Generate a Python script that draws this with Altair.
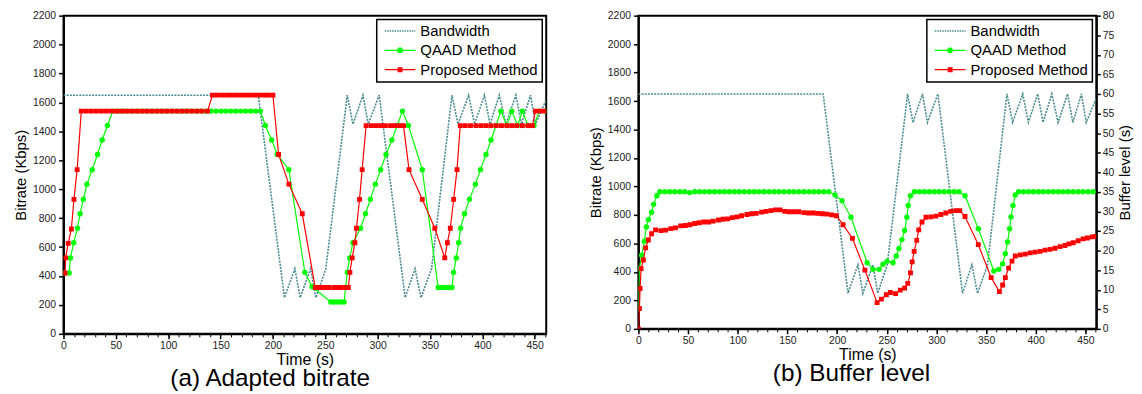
import math
import altair as alt
import pandas as pd

FONT = "Liberation Sans"
BW_COLOR = "#4a8a8e"
GREEN = "#00ff00"
RED = "#ff0000"
SERIES = ["Bandwidth", "QAAD Method", "Proposed Method"]

# ---------------- data ----------------
bandwidth = [
    (0, 1650), (186, 1650), (211, 250), (221, 450), (226, 250), (236, 450), (241, 250),
    (250.5, 450), (271, 1650), (276.4, 1450), (286, 1650), (291, 1450), (301.5, 1650),
    (326.3, 250), (335.7, 450), (341.4, 250), (351.5, 450), (371, 1650), (376.7, 1450),
    (386.9, 1650), (392.6, 1450), (402, 1650), (407.3, 1450), (416.2, 1650), (422.5, 1450),
    (432, 1650), (437.4, 1450), (446, 1650), (450.8, 1450), (461, 1620),
]

a_qaad = [
    (0, 420), (5.4, 420), (6.6, 525), (9.8, 630), (13.3, 730), (15.8, 830), (18.9, 930),
    (22.4, 1035), (27.4, 1135), (32.5, 1240), (36.9, 1340), (42, 1440), (47, 1540),
    (51.7, 1540), (56.4, 1540), (61.1, 1540), (65.8, 1540), (70.5, 1540), (75.2, 1540),
    (79.9, 1540), (84.6, 1540), (89.3, 1540), (94, 1540), (98.7, 1540), (103.4, 1540),
    (108.1, 1540), (112.8, 1540), (117.5, 1540), (122.2, 1540), (126.9, 1540), (131.6, 1540),
    (136.3, 1540), (141, 1540), (145.7, 1540), (150.4, 1540), (155.1, 1540), (159.8, 1540),
    (164.5, 1540), (169.2, 1540), (173.9, 1540), (178.6, 1540), (183.3, 1540), (188, 1540),
    (192.8, 1440), (198.8, 1340), (204.1, 1240), (215.2, 1135), (230.5, 425), (237.5, 325),
    (255.3, 220), (258.4, 220), (261.5, 220), (264.7, 220), (267.9, 220),
    (271, 425), (273.3, 525), (276.4, 630), (283.7, 730), (288.4, 830), (293.1, 930),
    (297.8, 1035), (302.9, 1135), (308, 1240), (313.6, 1340), (318.7, 1440), (323.7, 1540),
    (329.4, 1440), (342.6, 1135), (357.8, 320), (361.6, 320), (365, 320), (368, 320), (371, 320),
    (372.5, 425), (375.1, 525), (377.4, 630), (379.2, 730), (383, 830), (387.7, 930),
    (393.4, 1035), (398.2, 1135), (403.5, 1240), (408.3, 1340), (413, 1440), (417.7, 1540),
    (423.4, 1440), (428.1, 1540), (433.7, 1440), (438.2, 1540), (443.6, 1440), (449.3, 1440),
    (454.5, 1540), (460, 1540),
]

a_prop = [
    (0, 420), (1.5, 420), (2, 525), (4.5, 625), (7.5, 725), (10, 930), (13, 1135), (17, 1540),
    (21.8, 1540), (26.6, 1540), (31.4, 1540), (36.2, 1540), (41, 1540), (45.8, 1540),
    (50.6, 1540), (55.4, 1540), (60.2, 1540), (65, 1540), (69.8, 1540), (74.6, 1540),
    (79.4, 1540), (84.2, 1540), (89, 1540), (93.8, 1540), (98.6, 1540), (103.4, 1540),
    (108.2, 1540), (113, 1540), (117.8, 1540), (122.6, 1540), (127.4, 1540), (132.2, 1540),
    (137.5, 1540),
    (142.3, 1650), (146.8, 1650), (151.3, 1650), (155.8, 1650), (160.3, 1650), (164.8, 1650),
    (169.3, 1650), (173.8, 1650), (178.3, 1650), (182.8, 1650), (187.3, 1650), (191.8, 1650),
    (195.5, 1650), (200, 1650),
    (205.4, 1240), (215.2, 1035), (228, 830), (240.4, 320), (243.6, 320), (247.3, 320),
    (250.5, 320), (253.6, 320), (258.4, 320), (261.5, 320), (264.7, 320), (269.4, 320), (272, 320),
    (273.5, 425), (275.7, 525), (278.3, 630), (279.8, 730), (282.7, 930), (285.2, 1135), (289, 1440),
    (294, 1440), (298.4, 1440), (302.9, 1440), (307.3, 1440), (312.3, 1440), (316.8, 1440),
    (321.2, 1440), (324.7, 1440),
    (330, 1135), (342.6, 930), (354.6, 730), (364.1, 525), (366.6, 630), (369.4, 730),
    (372.6, 930), (375.8, 1135), (378.9, 1440),
    (383.6, 1440), (388.7, 1440), (394, 1440), (398.7, 1440), (403.5, 1440), (408.2, 1440),
    (413.3, 1440), (418.3, 1440), (423.4, 1440), (428.1, 1440), (432.8, 1440), (438.2, 1440),
    (443.6, 1440), (447.7, 1440),
    (450.8, 1540), (455.6, 1540), (460.3, 1540),
]

b_qaad = [
    (0, 5.2), (1, 15.4), (3.3, 18.8), (6, 22.4), (8, 26), (10, 27.9), (13.3, 29.8), (15.3, 31.8),
    (18.6, 34), (21.6, 35), (26.6, 35), (31.6, 35), (36.6, 35), (41.6, 35), (46.6, 35),
    (51.6, 34.8), (56.6, 35), (61.6, 35), (66.6, 35), (71.6, 35), (76.6, 35), (81.6, 35),
    (86.6, 35), (91.6, 35), (96.6, 35), (101.6, 35), (106.6, 35), (111.6, 35), (116.6, 35),
    (121.6, 35), (126.6, 35), (131.6, 35), (136.6, 35), (141.6, 35), (146.6, 35), (151.6, 35),
    (156.6, 35), (161.6, 35), (166.6, 35), (171.6, 35), (176.6, 35), (181.6, 35), (186.6, 35),
    (191.6, 35),
    (198, 34.2), (205, 32.7), (214, 28.5), (230.3, 16.9), (236.3, 15.2), (242.3, 15.2),
    (246.3, 16.5), (250.3, 17.3), (256.3, 16.9), (259.6, 18.6), (262.3, 20.5), (265.3, 22.8),
    (268, 25.1), (270.3, 28.5), (271.6, 31.5), (273.9, 34), (277.9, 35),
    (282.9, 35), (287.9, 35), (292.9, 35), (297.9, 35), (302.9, 35), (307.9, 35), (312.9, 35),
    (317.9, 35), (322.8, 35),
    (328.8, 34), (342.2, 25.6), (357.8, 14.8), (362.8, 15.2), (366.7, 16.6), (369.4, 19.2),
    (371.7, 22.2), (373.7, 25.6), (375.1, 28.6), (377.1, 31.5), (379.4, 34.2), (382.7, 35),
    (387.7, 35), (392.7, 35), (397.7, 35), (402.7, 35), (407.7, 35), (412.7, 35), (417.7, 35),
    (422.7, 35), (427.7, 35), (432.7, 35), (437.7, 35), (442.7, 35), (447.7, 35), (452.7, 35),
    (457.7, 35),
]

b_prop = [
    (0, 0), (1, 5.2), (1.7, 10.3), (2.7, 15.4), (5, 17.6), (7.3, 20.7), (10, 22.7), (13.3, 24.3),
    (17.3, 25.3), (22.7, 25.1), (27.4, 25.2), (32.6, 25.6), (37.3, 25.8), (42.6, 26.3),
    (47.3, 26.4), (51.9, 26.6), (56.6, 26.9), (61.2, 27.1), (65.9, 27.3), (70.6, 27.3),
    (75.3, 27.5), (80.6, 27.8), (85.2, 28.0), (89.9, 28.1), (94.6, 28.4), (99.3, 28.6),
    (103.9, 28.9), (109.3, 29.2), (113.9, 29.4), (118.6, 29.5), (124, 29.8), (128.6, 30.0),
    (133.3, 30.2), (138, 30.4), (142.6, 30.4), (147.3, 30.0), (152, 29.9), (156.6, 29.9),
    (161.3, 29.9), (166.6, 29.7), (171.3, 29.6), (176, 29.6), (180.6, 29.5), (185.3, 29.4),
    (190, 29.3), (194.6, 29.1), (199.3, 28.9), (206, 26.6), (215.5, 23.1), (228, 15.0),
    (240.3, 6.7), (244.6, 7.6), (249.6, 8.7), (253.6, 9.3), (258.9, 9.0), (263.6, 9.9),
    (268, 10.4), (271.2, 11.6), (273.9, 14.3), (275.6, 17.1), (277.6, 19.8), (280.2, 22.6),
    (282.2, 25.3), (285.5, 27.3), (289.5, 28.5), (294.5, 28.6), (299.5, 28.8), (304.5, 29.2),
    (309.5, 29.6), (314.5, 30.0), (319.5, 30.2), (323.5, 30.2), (328.8, 28.7), (342.2, 21.5),
    (355.1, 13.1), (363.4, 9.5), (366.7, 11.2), (369.4, 13.1), (372.7, 15.5), (376.1, 17.3),
    (379.4, 18.6), (384.4, 18.9), (389.4, 19.1), (394.4, 19.4), (399.4, 19.6), (404.4, 19.8),
    (409.4, 20.1), (414.4, 20.3), (419.4, 20.6), (424.4, 21.0), (429.4, 21.3), (433.4, 21.7),
    (437.7, 22.0), (442.7, 22.5), (447.7, 23.0), (452, 23.2), (456.7, 23.5), (460, 23.6),
]

X_TICKS = [0, 50, 100, 150, 200, 250, 300, 350, 400, 450]
X_MINOR = list(range(0, 461, 10))
Y_TICKS = list(range(0, 2201, 200))
B_TICKS = list(range(0, 81, 5))


def frame(pairs, name):
    return pd.DataFrame({"t": [p[0] for p in pairs], "v": [p[1] for p in pairs], "series": name})


# ---------------- legend symbol paths ----------------
def rect(x0, x1, h):
    return f"M{x0:.3f},{-h:.3f}H{x1:.3f}V{h:.3f}H{x0:.3f}Z"


X0, X1 = -0.7, 5.5
BW_PATH = "".join(rect(X0 + i * 0.5, min(X0 + i * 0.5 + 0.3, X1), 0.16) for i in range(13))
LINE_PATH = rect(X0, X1, 0.12)
MID = (X0 + X1) / 2
oct_pts = [(MID + 0.62 * math.cos(math.radians(22.5 + 45 * k)),
            0.62 * math.sin(math.radians(22.5 + 45 * k))) for k in range(8)]
OCT_PATH = "M" + "L".join(f"{x:.3f},{y:.3f}" for x, y in oct_pts) + "Z"
QAAD_PATH = LINE_PATH + OCT_PATH
PROP_PATH = LINE_PATH + rect(MID - 0.5, MID + 0.5, 0.5)


# ---------------- axes ----------------
def major_x():
    return alt.Axis(orient="bottom", values=X_TICKS, title="Time (s)", titleFont=FONT,
                    titleFontSize=16, titleFontWeight="normal", titleColor="black",
                    titlePadding=0, labelFont=FONT, labelFontSize=10.5, labelColor="#222",
                    labelPadding=2, tickSize=5, tickWidth=1.5, tickColor="black",
                    domainColor="black", domainWidth=2, grid=False, labelFlush=False)


def minor_x():
    return alt.Axis(orient="bottom", values=X_MINOR, labels=False, title=None, domain=False,
                    tickSize=3, tickWidth=1, tickColor="black", grid=False)


def left_y():
    return alt.Axis(orient="left", values=Y_TICKS, format="d", title="Bitrate (Kbps)",
                    titleFont=FONT, titleFontSize=15, titleFontWeight="normal",
                    titleColor="black", titlePadding=4, labelFont=FONT, labelFontSize=10.5,
                    labelColor="#222", labelPadding=3, tickSize=5, tickWidth=1.5,
                    tickColor="black", domainColor="black", domainWidth=2, grid=False)


def right_y():
    return alt.Axis(orient="right", values=B_TICKS, format="d", title="Buffer level (s)",
                    titleFont=FONT, titleFontSize=15, titleFontWeight="normal",
                    titleColor="black", titleAngle=270, titleBaseline="top", titlePadding=4,
                    labelFont=FONT, labelFontSize=10.5, labelColor="#222", labelPadding=2,
                    tickSize=4, tickWidth=1.5, tickColor="black", domainColor="black",
                    domainWidth=2, grid=False)


XS = alt.Scale(domain=[0, 461], nice=False, zero=False)
YS = alt.Scale(domain=[0, 2200], nice=False)
BS = alt.Scale(domain=[0, 80], nice=False)


def enc_x(axis):
    return alt.X("t:Q", scale=XS, axis=axis)


def enc_y(scale, axis):
    return alt.Y("v:Q", scale=scale, axis=axis)


def bw_line():
    return alt.Chart(frame(bandwidth, "Bandwidth")).mark_line(
        color=BW_COLOR, strokeWidth=1.6, strokeDash=[2, 1.2], clip=True
    ).encode(x=enc_x(major_x()), y=enc_y(YS, left_y()))


def series_layers(qaad, prop, yscale, yaxis):
    dq = frame(qaad, "QAAD Method")
    dp = frame(prop, "Proposed Method")
    q_line = alt.Chart(dq).mark_line(color=GREEN, strokeWidth=1.2, clip=True).encode(
        x=enc_x(minor_x()), y=enc_y(yscale, yaxis))
    q_pts = alt.Chart(dq).mark_point(shape="circle", filled=True, size=30, color=GREEN,
                                     opacity=1, clip=True).encode(
        x=enc_x(None), y=enc_y(yscale, None))
    p_line = alt.Chart(dp).mark_line(color=RED, strokeWidth=1.2, clip=True).encode(
        x=enc_x(None), y=enc_y(yscale, None))
    p_pts = alt.Chart(dp).mark_point(shape="square", filled=True, size=24, color=RED,
                                     opacity=1, clip=True).encode(
        x=enc_x(None), y=enc_y(yscale, None))
    leg_df = pd.DataFrame({"t": [0, 0, 0], "v": [0, 0, 0], "series": SERIES})
    legend = alt.Legend(title=None)
    leg = alt.Chart(leg_df).transform_filter("false").mark_point(filled=True, opacity=1).encode(
        x=enc_x(None), y=enc_y(yscale, None),
        fill=alt.Fill("series:N", scale=alt.Scale(domain=SERIES, range=[BW_COLOR, GREEN, RED]),
                      legend=legend),
        shape=alt.Shape("series:N", scale=alt.Scale(domain=SERIES,
                                                    range=[BW_PATH, QAAD_PATH, PROP_PATH]),
                        legend=legend),
    )
    return alt.layer(q_line, q_pts, p_line, p_pts, leg).resolve_axis(
        x="independent", y="independent")


def caption(text, dx):
    return alt.TitleParams(text, orient="bottom", anchor="middle", font=FONT, fontSize=24.5,
                           fontWeight="normal", color="black", offset=0, dx=dx)


left = alt.layer(
    bw_line(),
    series_layers(a_qaad, a_prop, YS, None),
).resolve_axis(x="independent", y="independent").properties(
    width=487, height=321, title=caption("(a) Adapted bitrate", -35))

right = alt.layer(
    bw_line(),
    series_layers(b_qaad, b_prop, BS, right_y()),
).resolve_scale(y="independent").resolve_axis(x="independent", y="independent").properties(
    width=462, height=316, title=caption("(b) Buffer level", -16))

chart = alt.hconcat(left, right, spacing=40).resolve_scale(
    x="independent", y="independent", fill="independent", shape="independent"
).resolve_legend(fill="independent", shape="independent").properties(
    padding={"left": 4, "top": 0, "right": 0, "bottom": 0}
).configure_view(stroke="black", strokeWidth=2).configure_legend(
    orient="top-right", offset=4, labelFont=FONT, labelFontSize=15, labelColor="black",
    symbolSize=100, labelOffset=25, rowPadding=3.5, padding=4, strokeColor="black",
    strokeWidth=1.5, fillColor="white", symbolStrokeWidth=0, labelLimit=400, cornerRadius=0
)

chart.save("out.html", embed_options={"renderer": "svg", "actions": False})
